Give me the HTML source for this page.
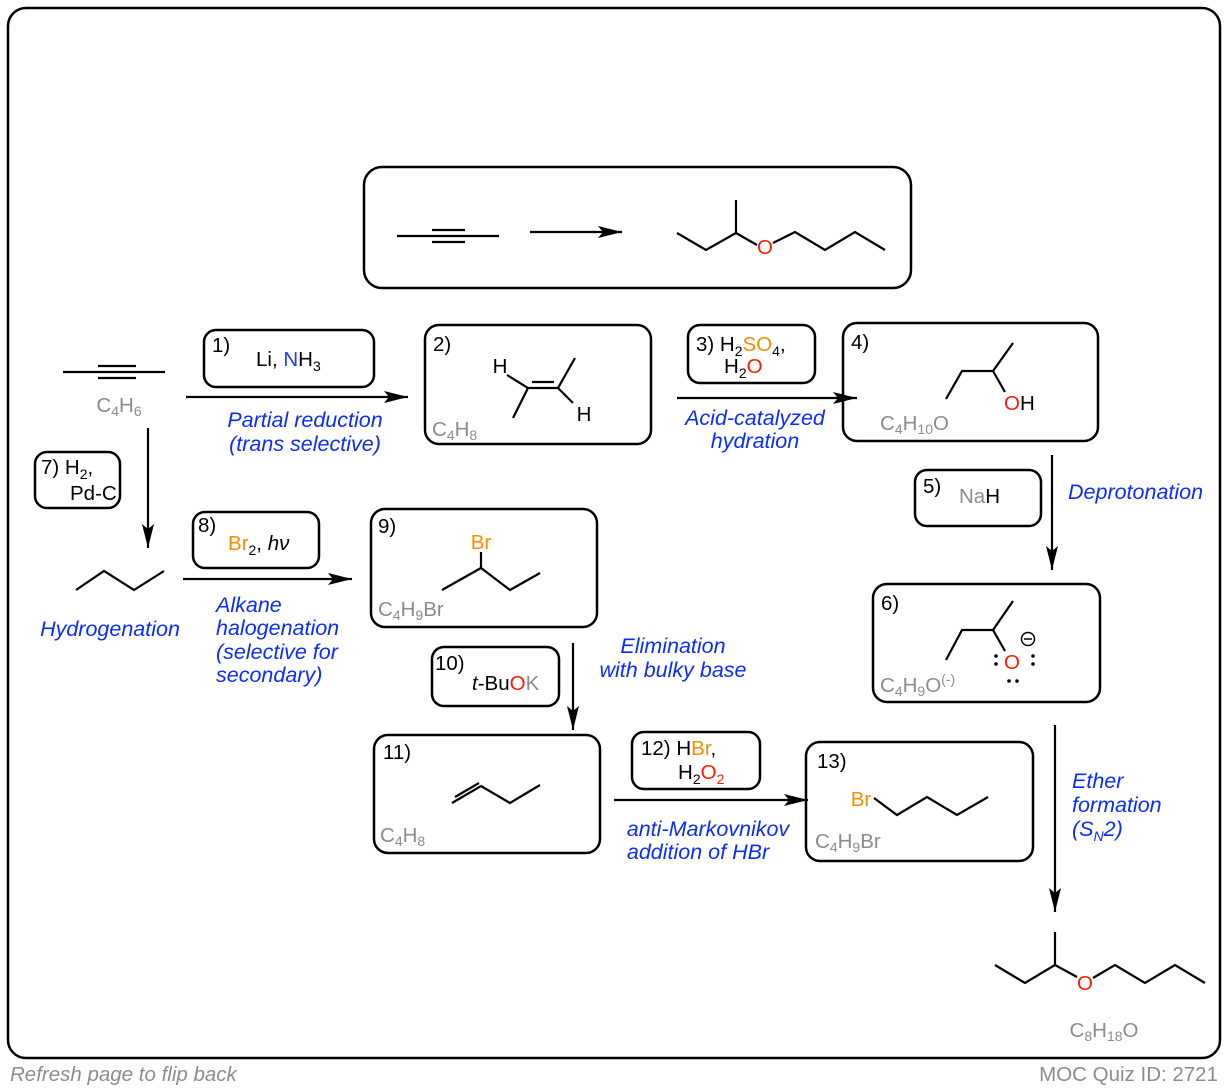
<!DOCTYPE html>
<html><head><meta charset="utf-8"><style>
html,body{margin:0;padding:0;background:#fff;}
svg{display:block;font-family:"Liberation Sans",Arial,sans-serif;}
.b{fill:none;stroke:#000;stroke-width:2.5;}
.l{stroke:#000;stroke-width:2.2;fill:none;}
.t{font-size:20.5px;fill:#000;}
.g{font-size:20.5px;fill:#8c8c8c;}
.bl{font-size:21.5px;fill:#0a2cff;font-style:italic;}
.r{fill:#ff1a00;}.o{fill:#ff8a00;}.nb{fill:#1a3cff;}.gr{fill:#8c8c8c;}
</style></head><body>
<svg width="1228" height="1090" viewBox="0 0 1228 1090" xmlns="http://www.w3.org/2000/svg">
<defs>
<marker id="ah" viewBox="0 0 24 12" markerWidth="24" markerHeight="12" refX="24" refY="6" orient="auto" markerUnits="userSpaceOnUse"><path d="M0,0 L24,6 L0,12 L5,6 Z"/></marker></defs>
<rect x="8" y="8" width="1212" height="1050" rx="18" class="b"/>
<!-- top box -->
<rect x="364" y="167" width="547" height="121" rx="18" class="b"/>
<path class="l" d="M397,236H499M432,230H465M432,242H465"/>
<path class="l" d="M530,232H622" marker-end="url(#ah)"/>
<path class="l" d="M677,233L706,250L736,233V200M736,233L757,245M773,243L795,232L825,250L855,232L885,250"/>
<text x="765" y="254" class="t r" text-anchor="middle" font-size="21">O</text>
<!-- step 1 -->
<path class="l" d="M63,372H165M98,366H136M98,378H136"/>
<text x="119" y="412" class="g" text-anchor="middle">C<tspan font-size="14" dy="4">4</tspan><tspan dy="-4">H</tspan><tspan font-size="14" dy="4">6</tspan></text>
<rect x="204" y="330" width="170" height="57" rx="12" class="b"/>
<text x="212" y="352" class="t">1)</text>
<text x="256" y="366" class="t">Li, <tspan class="nb">N</tspan>H<tspan font-size="14" dy="5">3</tspan></text>
<path class="l" d="M186,397H408" marker-end="url(#ah)"/>
<text x="305" y="427" class="bl" text-anchor="middle">Partial reduction</text>
<text x="305" y="451" class="bl" text-anchor="middle">(trans selective)</text>
<!-- box2 -->
<rect x="425" y="325" width="226" height="119" rx="14" class="b"/>
<text x="433" y="351" class="t">2)</text>
<text x="500" y="373" class="t" text-anchor="middle">H</text>
<text x="584" y="421" class="t" text-anchor="middle">H</text>
<path class="l" d="M507,375L528,388L558,388L575,358M558,388L573,403M528,388L513,418M532,382H554"/>
<text x="432" y="436" class="g">C<tspan font-size="14" dy="4">4</tspan><tspan dy="-4">H</tspan><tspan font-size="14" dy="4">8</tspan></text>
<!-- box3 -->
<rect x="688" y="325" width="127" height="58" rx="12" class="b"/>
<text x="696" y="351" class="t">3) H<tspan font-size="14" dy="5">2</tspan><tspan dy="-5" class="o">SO</tspan><tspan font-size="14" dy="5">4</tspan><tspan dy="-5">,</tspan></text>
<text x="724" y="373" class="t">H<tspan font-size="14" dy="5">2</tspan><tspan dy="-5" class="r">O</tspan></text>
<path class="l" d="M677,398H857" marker-end="url(#ah)"/>
<text x="755" y="425" class="bl" text-anchor="middle">Acid-catalyzed</text>
<text x="755" y="448" class="bl" text-anchor="middle">hydration</text>
<!-- box4 -->
<rect x="843" y="323" width="255" height="118" rx="14" class="b"/>
<text x="851" y="349" class="t">4)</text>
<path class="l" d="M946,399L962,371L993,371L1013,343M993,371L1005,392"/>
<text x="1004" y="410" class="t"><tspan class="r">O</tspan>H</text>
<text x="880" y="430" class="g">C<tspan font-size="14" dy="4">4</tspan><tspan dy="-4">H</tspan><tspan font-size="14" dy="4">10</tspan><tspan dy="-4">O</tspan></text>
<!-- step5 -->
<path class="l" d="M1052,455V570" marker-end="url(#ah)"/>
<rect x="915" y="470" width="126" height="56" rx="12" class="b"/>
<text x="923" y="493" class="t">5)</text>
<text x="959" y="503" class="t"><tspan class="gr">Na</tspan>H</text>
<text x="1068" y="499" class="bl">Deprotonation</text>
<!-- box6 -->
<rect x="873" y="584" width="227" height="118" rx="14" class="b"/>
<text x="881" y="610" class="t">6)</text>
<path class="l" d="M946,660L962,630L993,630L1013,601M993,630L1005,651"/>
<text x="1012" y="669" class="t r" text-anchor="middle" font-size="21">O</text>
<circle cx="1028" cy="639" r="6.5" fill="none" stroke="#000" stroke-width="1.5"/><path d="M1024,639H1032" stroke="#000" stroke-width="1.5"/>
<g fill="#000"><circle cx="996" cy="656" r="1.8"/><circle cx="996" cy="664" r="1.8"/><circle cx="1033" cy="656" r="1.8"/><circle cx="1033" cy="664" r="1.8"/><circle cx="1009" cy="681" r="1.8"/><circle cx="1017" cy="681" r="1.8"/></g>
<text x="880" y="692" class="g">C<tspan font-size="14" dy="4">4</tspan><tspan dy="-4">H</tspan><tspan font-size="14" dy="4">9</tspan><tspan dy="-4">O</tspan><tspan font-size="14" dy="-8">(-)</tspan></text>
<!-- step final -->
<path class="l" d="M1055,725V912" marker-end="url(#ah)"/>
<text x="1072" y="788" class="bl">Ether</text>
<text x="1072" y="812" class="bl">formation</text>
<text x="1072" y="836" class="bl">(S<tspan font-size="14" dy="5">N</tspan><tspan dy="-5">2)</tspan></text>
<path class="l" d="M995,965L1025,983L1055,965V932M1055,965L1077,977M1093,978L1115,965L1145,983L1175,965L1205,983"/>
<text x="1085" y="990" class="t r" text-anchor="middle" font-size="21">O</text>
<text x="1104" y="1037" class="g" text-anchor="middle">C<tspan font-size="14" dy="4">8</tspan><tspan dy="-4">H</tspan><tspan font-size="14" dy="4">18</tspan><tspan dy="-4">O</tspan></text>
<!-- step7 -->
<path class="l" d="M148,428V548" marker-end="url(#ah)"/>
<rect x="35" y="452" width="85" height="56" rx="12" class="b"/>
<text x="41" y="474" class="t">7) H<tspan font-size="14" dy="5">2</tspan><tspan dy="-5">,</tspan></text>
<text x="70" y="500" class="t">Pd-C</text>
<path class="l" d="M76,590L104,571L134,590L164,571"/>
<text x="110" y="636" class="bl" text-anchor="middle">Hydrogenation</text>
<!-- step8 -->
<rect x="193" y="512" width="126" height="56" rx="12" class="b"/>
<text x="198" y="532" class="t">8)</text>
<text x="228" y="550" class="t"><tspan class="o">Br</tspan><tspan font-size="14" dy="5">2</tspan><tspan dy="-5">, </tspan><tspan font-style="italic">hν</tspan></text>
<path class="l" d="M183,579H352" marker-end="url(#ah)"/>
<text x="216" y="612" class="bl">Alkane</text>
<text x="216" y="635" class="bl">halogenation</text>
<text x="216" y="659" class="bl">(selective for</text>
<text x="216" y="682" class="bl">secondary)</text>
<!-- box9 -->
<rect x="371" y="509" width="226" height="118" rx="14" class="b"/>
<text x="378" y="533" class="t">9)</text>
<text x="481" y="549" class="t o" text-anchor="middle">Br</text>
<path class="l" d="M481,552V568M442,590L481,568L510,590L540,573"/>
<text x="378" y="616" class="g">C<tspan font-size="14" dy="4">4</tspan><tspan dy="-4">H</tspan><tspan font-size="14" dy="4">9</tspan><tspan dy="-4">Br</tspan></text>
<!-- step10 -->
<path class="l" d="M573,643V730" marker-end="url(#ah)"/>
<rect x="432" y="647" width="127" height="59" rx="12" class="b"/>
<text x="435" y="670" class="t">10)</text>
<text x="472" y="690" class="t"><tspan font-style="italic">t</tspan>-Bu<tspan class="r">O</tspan><tspan class="gr">K</tspan></text>
<text x="673" y="653" class="bl" text-anchor="middle">Elimination</text>
<text x="673" y="677" class="bl" text-anchor="middle">with bulky base</text>
<!-- box11 -->
<rect x="374" y="735" width="226" height="118" rx="14" class="b"/>
<text x="383" y="759" class="t">11)</text>
<path class="l" d="M452,803L481,786L510,803L540,785M455,797L479,783"/>
<text x="380" y="842" class="g">C<tspan font-size="14" dy="4">4</tspan><tspan dy="-4">H</tspan><tspan font-size="14" dy="4">8</tspan></text>
<!-- step12 -->
<rect x="632" y="732" width="128" height="57" rx="12" class="b"/>
<text x="641" y="755" class="t">12) H<tspan class="o">Br</tspan>,</text>
<text x="678" y="779" class="t">H<tspan font-size="14" dy="5">2</tspan><tspan dy="-5" class="r">O</tspan><tspan font-size="14" dy="5" class="r">2</tspan></text>
<path class="l" d="M614,800H808" marker-end="url(#ah)"/>
<text x="708" y="836" class="bl" text-anchor="middle">anti-Markovnikov</text>
<text x="698" y="859" class="bl" text-anchor="middle">addition of HBr</text>
<!-- box13 -->
<rect x="806" y="742" width="227" height="119" rx="14" class="b"/>
<text x="817" y="768" class="t">13)</text>
<text x="861" y="806" class="t o" text-anchor="middle">Br</text>
<path class="l" d="M874,798L897,815L927,797L957,815L988,797"/>
<text x="815" y="848" class="g">C<tspan font-size="14" dy="4">4</tspan><tspan dy="-4">H</tspan><tspan font-size="14" dy="4">9</tspan><tspan dy="-4">Br</tspan></text>
<!-- footer -->
<text x="10" y="1081" font-size="20.5" fill="#8c8c8c" font-style="italic">Refresh page to flip back</text>
<text x="1218" y="1081" font-size="20.5" fill="#8c8c8c" text-anchor="end">MOC Quiz ID: 2721</text>
</svg>
</body></html>
